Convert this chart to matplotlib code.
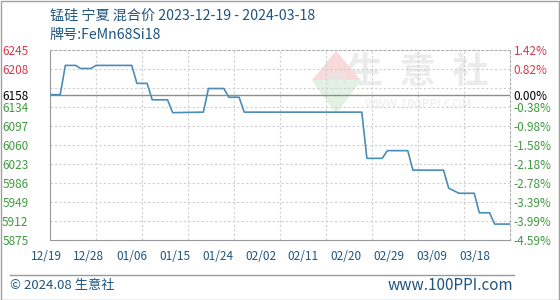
import matplotlib
matplotlib.use("Agg")
import matplotlib.pyplot as plt
from matplotlib.patches import Polygon, Rectangle
from matplotlib.lines import Line2D
import pandas as pd

plt.rcParams['font.family'] = ['Noto Sans CJK SC', 'DejaVu Sans']

# 数据（从图上读取的拐点）
dates = ["2023-12-19", "2023-12-21", "2023-12-22", "2023-12-24", "2023-12-25",
         "2023-12-27", "2023-12-28", "2024-01-04", "2024-01-05", "2024-01-07",
         "2024-01-08", "2024-01-11", "2024-01-12", "2024-01-18", "2024-01-19",
         "2024-01-22", "2024-01-23", "2024-01-25", "2024-01-26", "2024-02-18",
         "2024-02-19", "2024-02-22", "2024-02-23", "2024-02-27", "2024-02-28",
         "2024-03-05", "2024-03-06", "2024-03-08", "2024-03-11", "2024-03-12",
         "2024-03-14", "2024-03-15", "2024-03-18"]
prices = [6158, 6158, 6215, 6215, 6209, 6209, 6215, 6215, 6180, 6180,
          6148, 6148, 6123, 6124, 6170, 6170, 6153, 6153, 6124, 6124,
          6034, 6034, 6049, 6049, 6011, 6011, 5976, 5966, 5966, 5928,
          5928, 5906, 5906]

base = 6158
y_ticks = [6245, 6208, 6158, 6134, 6097, 6060, 6023, 5986, 5949, 5912, 5875]
y_grid = [6208, 6171, 6134, 6097, 6060, 6023, 5986, 5949, 5912]
pct_labels = ["1.42%", "0.82%", "0.00%", "-0.38%", "-0.98%", "-1.58%",
              "-2.18%", "-2.78%", "-3.39%", "-3.99%", "-4.59%"]
x_labels = ["12/19", "12/28", "01/06", "01/15", "01/24", "02/02",
            "02/11", "02/20", "02/29", "03/09", "03/18"]
x_grid = pd.date_range("2023-12-28", "2024-03-09", freq="9D")

RED = "#d23a4a"
GREEN = "#3f9a3f"
BLUE = "#1f5580"
LINE = "#4a8db8"

x = pd.to_datetime(dates)

fig = plt.figure(figsize=(5.6, 3.0), dpi=100)
ax = fig.add_axes([50/560, 60/300, 460/560, 190/300])

# marca de agua
ax.text(0.80, 0.88, "生  意  社", transform=ax.transAxes, fontsize=26,
        color="#ebebeb", ha="center", va="center", zorder=0, fontweight="bold")
ax.text(0.80, 0.715, "WWW.100PPI.COM", transform=ax.transAxes, fontsize=9,
        color="#ececec", ha="center", va="center", zorder=0)
ax.add_patch(Polygon([[0.571, 0.84], [0.622, 0.99], [0.674, 0.84]],
                     closed=True, transform=ax.transAxes, color="#f8dada", zorder=0))
ax.add_patch(Polygon([[0.571, 0.84], [0.622, 0.67], [0.674, 0.84]],
                     closed=True, transform=ax.transAxes, color="#e2f2e2", zorder=0))
ax.text(0.622, 0.84, "PPI", transform=ax.transAxes, fontsize=10,
        color="#e6e6e6", ha="center", va="center", zorder=0, fontweight="bold")

for v in y_grid:
    ax.axhline(v, color="#cfcfcf", linestyle=(0, (2, 2)), linewidth=0.8, zorder=1)
for d in x_grid:
    ax.axvline(d, color="#cfcfcf", linestyle=(0, (2, 2)), linewidth=0.8, zorder=1)
ax.axhline(base, color="#8c8c8c", linewidth=1.0, zorder=2)

ax.plot(x, prices, color=LINE, linewidth=1.2, zorder=3)

ax.set_xlim(pd.Timestamp("2023-12-19"), pd.Timestamp("2024-03-18"))
ax.set_ylim(5875, 6245)

for side in ["left", "bottom"]:
    ax.spines[side].set_color("#999999")
for side in ["top", "right"]:
    ax.spines[side].set_color("#b0b0b0")
    ax.spines[side].set_linestyle((0, (2, 2)))

ax.set_xticks([])
ax.set_yticks(y_ticks)
ax.set_yticklabels([str(v) for v in y_ticks])
ax.tick_params(axis="y", length=0, pad=15.5, labelsize=8.5)
for lab, v in zip(ax.get_yticklabels(), y_ticks):
    lab.set_color(RED if v > base else ("black" if v == base else GREEN))

ax2 = ax.twinx()
ax2.set_ylim(ax.get_ylim())
ax2.set_yticks(y_ticks)
ax2.set_yticklabels(pct_labels)
ax2.tick_params(axis="y", length=0, pad=2.5, labelsize=8.5)
for lab, v in zip(ax2.get_yticklabels(), y_ticks):
    lab.set_color(RED if v > base else ("black" if v == base else GREEN))
for s in ax2.spines.values():
    s.set_visible(False)

# etiquetas del eje x, espaciadas igual que en el original
for i, lab in enumerate(x_labels):
    ax.text((-4 + 42.9 * i) / 460, -17 / 190, lab, transform=ax.transAxes,
            ha="center", va="center", fontsize=8.5, color=BLUE)

fig.text(50/560, 1 - 16/300, "锰硅 宁夏 混合价 2023-12-19 - 2024-03-18",
         fontsize=10.2, color=BLUE, va="center", ha="left")
fig.text(50/560, 1 - 35/300, "牌号:FeMn68Si18",
         fontsize=10.2, color=BLUE, va="center", ha="left")

fig.add_artist(Line2D([10/560, 514/560], [1 - 275/300, 1 - 275/300],
                      color="#999999", linewidth=1.0))
fig.text(10/560, 1 - 286/300, "© 2024.08 生意社", fontsize=9.5,
         color=BLUE, va="center", ha="left")
fig.text(513/560, 1 - 286/300, "www.100PPI.com", fontsize=11,
         color=BLUE, va="center", ha="right")

fig.add_artist(Rectangle((0.5/560, 0.5/300), 558.5/560, 298.5/300,
                         fill=False, edgecolor="#a0a0a0", linewidth=1.0,
                         transform=fig.transFigure))

fig.savefig("out.png", dpi=100)
